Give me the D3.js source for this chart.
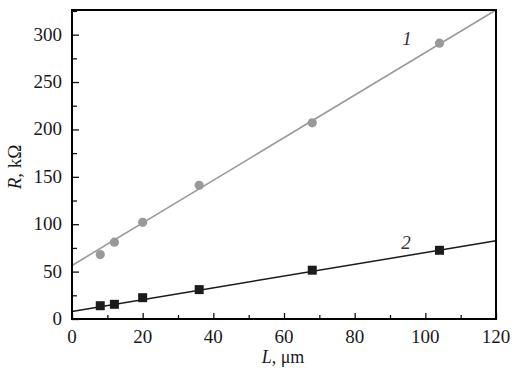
<!DOCTYPE html>
<html>
<head>
<meta charset="utf-8">
<script src="https://cdn.jsdelivr.net/npm/d3@7"></script>
<style>
  body { margin: 0; background: #fff; }
  text { font-family: "Liberation Serif", "DejaVu Serif", serif; }
</style>
</head>
<body>
<div id="chart"></div>
<script>
// measured points
var lengths = [8, 12, 20, 36, 68, 104];
var series1 = [68, 81, 102, 141, 207, 291];   // grey circles, curve 1
var series2 = [14, 15.5, 22.5, 31, 51.5, 72.5]; // black squares, curve 2
// fitted lines, value at L = 0 and L = 120
var fit1 = [[0, 56.5], [120, 326]];
var fit2 = [[0, 8], [120, 82.5]];
var xTicks = [0, 20, 40, 60, 80, 100, 120];
var yTicks = [0, 50, 100, 150, 200, 250, 300];

var margin = {top: 10, right: 26, bottom: 60, left: 72},
    width = 522 - margin.left - margin.right,
    height = 379 - margin.top - margin.bottom;

var svg = d3.select("#chart")
  .append("svg")
    .attr("width", 522)
    .attr("height", 379)
  .append("g")
    .attr("transform", "translate(" + margin.left + "," + margin.top + ")");

var x = d3.scaleLinear().domain([0, 120]).range([0, width]);
var y = d3.scaleLinear().domain([0, 326]).range([height, 0]);

// minor ticks (inside)
svg.append("g")
  .attr("transform", "translate(0," + height + ")")
  .call(d3.axisTop(x).tickValues(d3.range(10, 120, 20)).tickSize(4).tickFormat(""))
  .call(function(g) { g.select(".domain").remove(); });
svg.append("g")
  .call(d3.axisRight(y).tickValues(d3.range(25, 326, 50)).tickSize(5).tickFormat(""))
  .call(function(g) { g.select(".domain").remove(); });

// major ticks
svg.append("g")
  .attr("transform", "translate(0," + height + ")")
  .call(d3.axisTop(x).tickValues(xTicks).tickSize(6).tickFormat(""))
  .call(function(g) { g.select(".domain").remove(); });
svg.append("g")
  .call(d3.axisRight(y).tickValues(yTicks).tickSize(7).tickFormat(""))
  .call(function(g) { g.select(".domain").remove(); });

svg.selectAll(".tick line").attr("stroke", "#111").attr("stroke-width", 1.3);

// tick labels
svg.selectAll(".xlab")
  .data(xTicks)
  .enter().append("text")
    .attr("x", function(d) { return x(d); })
    .attr("y", height + 24)
    .attr("text-anchor", "middle")
    .attr("font-size", 19)
    .attr("fill", "#1a1a1a")
    .text(function(d) { return d; });

svg.selectAll(".ylab")
  .data(yTicks)
  .enter().append("text")
    .attr("x", -10)
    .attr("y", function(d) { return y(d) + 6; })
    .attr("text-anchor", "end")
    .attr("font-size", 19)
    .attr("fill", "#1a1a1a")
    .text(function(d) { return d; });

// fitted lines
var line = d3.line()
  .x(function(d) { return x(d[0]); })
  .y(function(d) { return y(d[1]); });

svg.append("path")
  .datum(fit1)
  .attr("fill", "none")
  .attr("stroke", "#9a9a9a")
  .attr("stroke-width", 1.6)
  .attr("d", line);

svg.append("path")
  .datum(fit2)
  .attr("fill", "none")
  .attr("stroke", "#1a1a1a")
  .attr("stroke-width", 1.5)
  .attr("d", line);

// points
svg.selectAll(".pt1")
  .data(lengths)
  .enter().append("circle")
    .attr("cx", function(d) { return x(d); })
    .attr("cy", function(d, i) { return y(series1[i]); })
    .attr("r", 4.6)
    .attr("fill", "#999");

svg.selectAll(".pt2")
  .data(lengths)
  .enter().append("rect")
    .attr("x", function(d) { return x(d) - 4.5; })
    .attr("y", function(d, i) { return y(series2[i]) - 4.5; })
    .attr("width", 9)
    .attr("height", 9)
    .attr("fill", "#1c1c1c");

// frame
svg.append("rect")
  .attr("width", width)
  .attr("height", height)
  .attr("fill", "none")
  .attr("stroke", "#000")
  .attr("stroke-width", 2);

// curve labels
svg.append("text")
  .attr("x", x(94.8))
  .attr("y", y(289))
  .attr("font-size", 19)
  .attr("font-style", "italic")
  .attr("fill", "#333")
  .attr("text-anchor", "middle")
  .text("1");

svg.append("text")
  .attr("x", x(94.5))
  .attr("y", y(74))
  .attr("font-size", 19)
  .attr("font-style", "italic")
  .attr("fill", "#333")
  .attr("text-anchor", "middle")
  .text("2");

// axis titles
var xt = svg.append("text")
  .attr("x", 211)
  .attr("y", height + 44)
  .attr("text-anchor", "middle")
  .attr("font-size", 18)
  .attr("fill", "#1a1a1a");
xt.append("tspan").attr("font-style", "italic").text("L");
xt.append("tspan").text(", μm");

var yt = svg.append("text")
  .attr("transform", "translate(" + (-51) + "," + 157 + ") rotate(-90)")
  .attr("text-anchor", "middle")
  .attr("font-size", 19)
  .attr("fill", "#1a1a1a");
yt.append("tspan").attr("font-style", "italic").text("R");
yt.append("tspan").text(", kΩ");
</script>
</body>
</html>
